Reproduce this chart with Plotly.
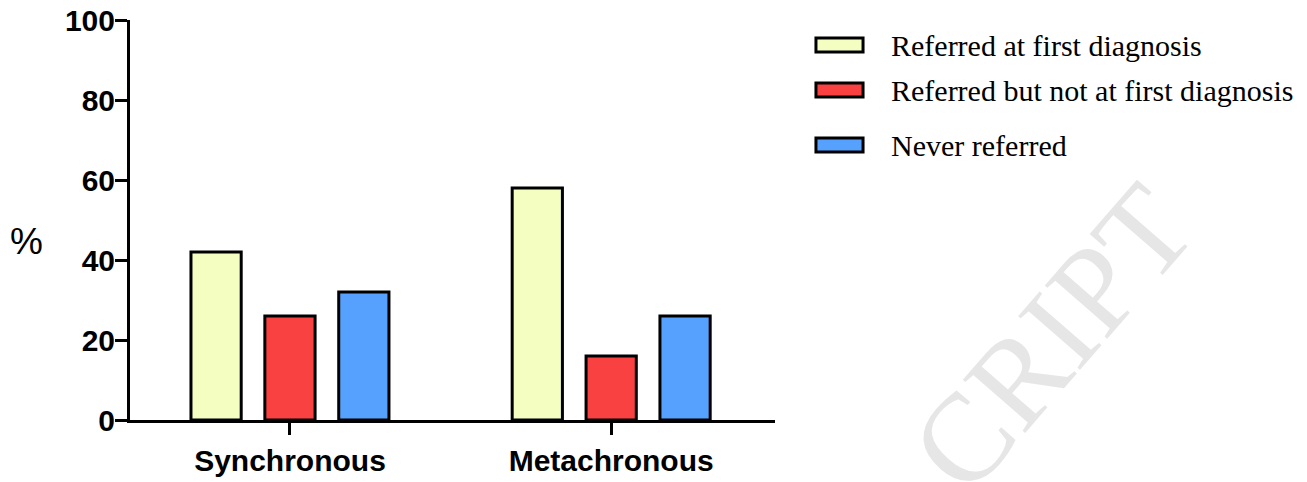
import plotly.graph_objects as go

categories = ["Synchronous", "Metachronous"]
series_names = ["Referred at first diagnosis", "Referred but not at first diagnosis", "Never referred"]
referred_first = [42, 58]
referred_later = [26, 16]
never_referred = [32, 26]
colors = ["#F3FEC0", "#F94141", "#55A1FD"]
y_ticks = [0, 20, 40, 60, 80, 100]

fig = go.Figure()
for name, vals, col in zip(series_names, [referred_first, referred_later, never_referred], colors):
    fig.add_trace(go.Bar(
        x=categories, y=vals, name=name,
        marker=dict(color=col, line=dict(color="black", width=3)),
        showlegend=False,
    ))

bold = dict(family="Liberation Sans, Arial, sans-serif", color="black", weight="bold")
serif = "Liberation Serif, Times New Roman, serif"

# legend drawn as swatches + labels in paper coordinates
leg_rows = [0.9375, 0.825, 0.6875]
shapes = []
annotations = []
for name, col, yr in zip(series_names, colors, leg_rows):
    shapes.append(dict(type="rect", xref="paper", yref="paper",
                       x0=1.0635, x1=1.1365, y0=yr - 0.0175, y1=yr + 0.0175,
                       fillcolor=col, line=dict(color="black", width=3)))
    annotations.append(dict(text=name, xref="paper", yref="paper", x=1.1767, y=yr,
                            xanchor="left", yanchor="middle", showarrow=False,
                            font=dict(family=serif, size=30, color="black")))

annotations.append(dict(text="%", xref="paper", yref="paper", x=-0.1597, y=0.445,
                        xanchor="center", yanchor="middle", showarrow=False,
                        font=dict(family="Liberation Sans, Arial, sans-serif", size=37, color="black")))
annotations.append(dict(text="CRIPT", xref="paper", yref="paper", x=1.4295, y=0.205,
                        xanchor="center", yanchor="middle", showarrow=False, textangle=-49,
                        font=dict(family=serif, size=125, color="#e6e6e6")))

fig.update_layout(
    width=1307, height=482,
    margin=dict(l=130, r=532, t=20, b=62, autoexpand=False),
    paper_bgcolor="white", plot_bgcolor="white",
    barmode="group", bargap=0.31, bargroupgap=0.32,
    showlegend=False,
    xaxis=dict(
        range=[-0.498, 1.51], showline=True, linecolor="black", linewidth=3,
        ticks="outside", ticklen=12, tickwidth=3, tickcolor="black",
        tickfont=dict(size=30, **bold), showgrid=False, zeroline=False, automargin=False,
        ticklabeloverflow="allow",
    ),
    yaxis=dict(
        range=[0, 100], tickvals=y_ticks, showline=True, linecolor="black", linewidth=3,
        ticks="outside", ticklen=12, tickwidth=3, tickcolor="black", ticklabelstandoff=-6,
        tickfont=dict(size=30, **bold), showgrid=False, zeroline=False, automargin=False,
        ticklabeloverflow="allow",
    ),
    shapes=shapes,
    annotations=annotations,
)

fig.write_html("out.html", config={"displayModeBar": False},
               post_script="document.body.style.margin='0';")
